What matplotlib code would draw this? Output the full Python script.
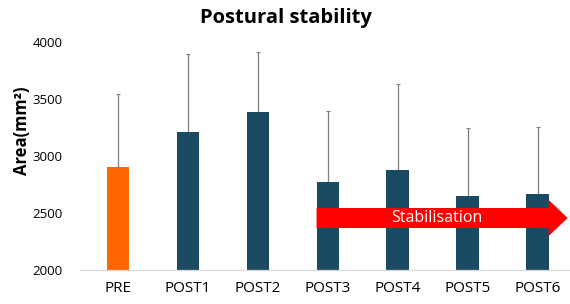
import matplotlib
matplotlib.use("Agg")
import matplotlib.pyplot as plt
from matplotlib.patches import FancyArrow

plt.rcParams["font.family"] = ["Open Sans", "DejaVu Sans"]

# mean sway area and upper SD per session
labels = ["PRE", "POST1", "POST2", "POST3", "POST4", "POST5", "POST6"]
means = [2900, 3210, 3385, 2775, 2875, 2652, 2668]
sd = [640, 685, 530, 620, 757, 596, 590]
colors = ["#FF6600"] + ["#1B4A63"] * 6

# arrow span (in category units) and band (in data units)
arrow_x0, arrow_x1 = 2.84, 6.43
arrow_y, arrow_w, arrow_head_w = 2456, 176, 316

fig = plt.figure(figsize=(5.7, 3.04), dpi=100)
ax = fig.add_axes([79.5 / 570, 1 - 270 / 304, (576 - 79.5) / 570, 228 / 304])

xs = range(len(labels))
ax.bar(xs, [m - 2000 for m in means], bottom=2000, width=0.32, color=colors, zorder=2)
ax.errorbar(xs, means, yerr=[[0] * len(sd), sd], fmt="none", ecolor="#7f7f7f",
            elinewidth=0.9, capsize=1.2, capthick=0.8, zorder=1)

ax.add_patch(FancyArrow(arrow_x0, arrow_y, arrow_x1 - arrow_x0, 0, width=arrow_w,
                        head_width=arrow_head_w, head_length=0.27,
                        length_includes_head=True, color="#FF0000", lw=0, zorder=3))
ax.text(4.56, arrow_y, "Stabilisation", color="white", fontsize=11.5,
        ha="center", va="center", zorder=4)

ax.set_ylim(2000, 4000)
ax.set_xlim(-0.55, 6.55)
ax.set_yticks([2000, 2500, 3000, 3500, 4000])
ax.set_xticks(list(xs))
ax.set_xticklabels(labels)
ax.tick_params(axis="both", length=0, labelsize=11)
ax.tick_params(axis="y", pad=12, labelsize=9.5)
ax.tick_params(axis="x", pad=8)
for s in ["top", "right", "left"]:
    ax.spines[s].set_visible(False)
ax.spines["bottom"].set_color("#d9d9d9")
ax.spines["bottom"].set_linewidth(0.9)

fig.text(286 / 570, 1 - 18 / 304, "Postural stability", fontsize=14.5,
         fontweight="bold", ha="center", va="center")
fig.text(22 / 570, 1 - 131 / 304, "Area(mm²)", fontsize=12, fontweight="bold",
         rotation=90, ha="center", va="center")

fig.savefig("out.png", dpi=100)
